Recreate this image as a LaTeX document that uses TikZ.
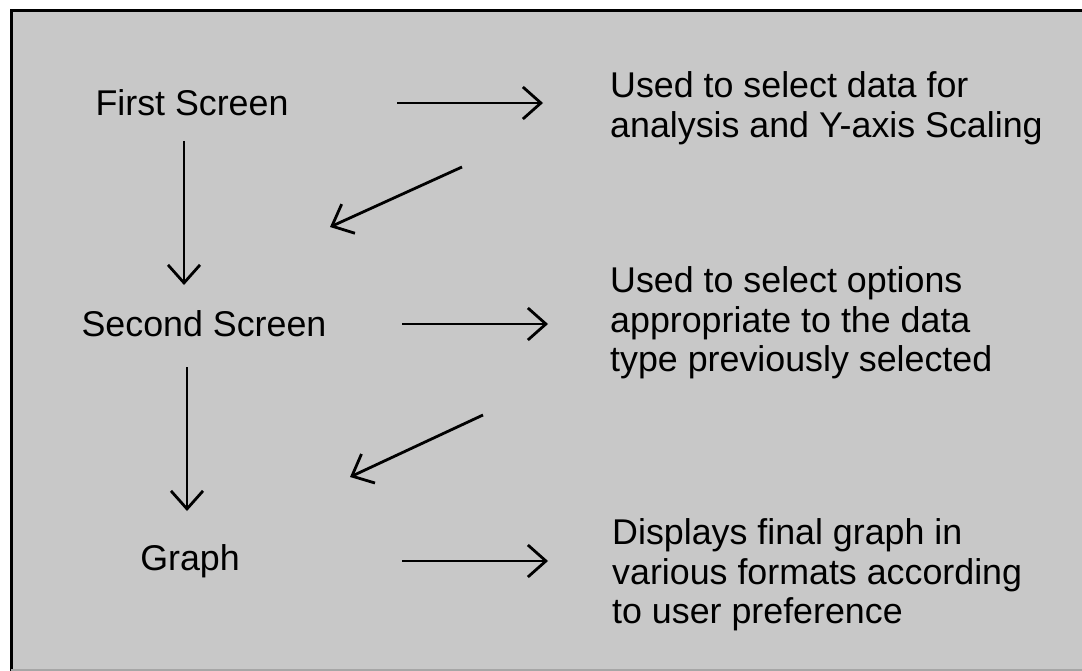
\documentclass[tikz,border=0pt]{standalone}
\usepackage{fontspec}
\setmainfont{Liberation Sans}
\usetikzlibrary{arrows.meta}
\definecolor{panel}{RGB}{200,200,200}
\begin{document}
\begin{tikzpicture}[
    x=1pt, y=-1pt,
    every node/.style={inner sep=0pt, font=\fontsize{35.8}{39.5}\selectfont},
    note/.style={anchor=west, align=left},
    arr/.style={line width=2.8pt, -{Straight Barb[length=18pt, width=32pt, line width=2.8pt]}}
]
\useasboundingbox (0,0) rectangle (1082,671);
\fill[white] (0,0) rectangle (1082,671);
\fill[panel] (11,11) rectangle (1082,669);
\draw[line width=3pt] (11,671) -- (11,11) -- (1082,11);
\draw[gray!70, line width=1.5pt] (11,670) -- (1082,670);

\node (first) at (192,103) {First Screen};
\node (second) at (204,324) {Second Screen};
\node (graph) at (190,561) {Graph};

\node[note] (use1) at (610,108) {Used to select data for\\analysis and Y-axis Scaling};
\node[note] (use2) at (610,323) {Used to select options\\appropriate to the data\\type previously selected};
\node[note] (use3) at (612,575) {Displays final graph in\\various formats according\\to user preference};

\coordinate (back1) at ([shift={(-148,59)}]use1.west);
\coordinate (back2) at ([shift={(-127,92)}]use2.west);

\draw[arr, shorten <=205pt, shorten >=67pt] (first.center) -- (first.center -| use1.west);
\draw[arr, shorten <=198pt, shorten >=62pt] (second.center) -- (second.center -| use2.west);
\draw[arr, shorten <=212pt, shorten >=64pt] (graph.center) -- (graph.center -| use3.west);

\draw[arr, shorten <=38pt, shorten >=39pt] ([xshift=-8pt]first.center) -- ([xshift=-8pt]first.center |- second.center);
\draw[arr, shorten <=43pt, shorten >=50pt] ([xshift=-17pt]second.center) -- ([xshift=-17pt]second.center |- graph.center);

\draw[arr] (back1) -- ([shift={(126,-97)}]second.center);
\draw[arr] (back2) -- ([shift={(160,-84)}]graph.center);
\end{tikzpicture}
\end{document}
